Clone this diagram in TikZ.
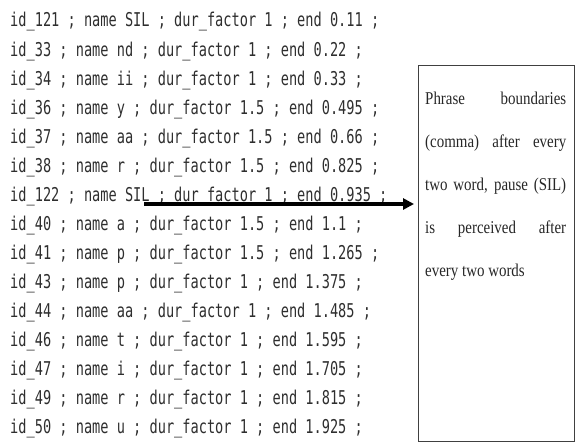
\documentclass[tikz,border=0pt]{standalone}
\usepackage{fontspec}
\newfontfamily\logfont[FakeStretch=0.717]{DejaVu Sans Mono}
\newfontfamily\notefont[FakeStretch=0.83]{Liberation Serif}
\usetikzlibrary{arrows.meta}

\begin{document}
\begin{tikzpicture}[
    x=1pt, y=-1pt,
    logline/.style={anchor=base west, inner sep=0pt, text=black!82,
                    font=\logfont\fontsize{19}{22}\selectfont},
    notebox/.style={draw=black!75, line width=0.8pt, anchor=north west,
                    minimum width=156pt, minimum height=376pt, inner sep=0pt},
    noteline/.style={anchor=base west, inner sep=0pt, text=black!85,
                     font=\notefont\fontsize{18}{20}\selectfont},
    pointer/.style={line width=3.2pt, -{Triangle[length=11pt,width=11pt]},
                    shorten >=4pt}
]

% ---------- canvas ----------
\useasboundingbox (0,0) rectangle (575,444);

% ---------- label file ----------
\foreach \txt [count=\i] in {
    id\_121 ; name SIL ; dur\_factor 1 ; end 0.11 ;,
    id\_33 ; name nd ; dur\_factor 1 ; end 0.22 ;,
    id\_34 ; name ii ; dur\_factor 1 ; end 0.33 ;,
    id\_36 ; name y ; dur\_factor 1.5 ; end 0.495 ;,
    id\_37 ; name aa ; dur\_factor 1.5 ; end 0.66 ;,
    id\_38 ; name r ; dur\_factor 1.5 ; end 0.825 ;,
    id\_122 ; name SIL ; dur\_factor 1 ; end 0.935 ;,
    id\_40 ; name a ; dur\_factor 1.5 ; end 1.1 ;,
    id\_41 ; name p ; dur\_factor 1.5 ; end 1.265 ;,
    id\_43 ; name p ; dur\_factor 1 ; end 1.375 ;,
    id\_44 ; name aa ; dur\_factor 1 ; end 1.485 ;,
    id\_46 ; name t ; dur\_factor 1 ; end 1.595 ;,
    id\_47 ; name i ; dur\_factor 1 ; end 1.705 ;,
    id\_49 ; name r ; dur\_factor 1 ; end 1.815 ;,
    id\_50 ; name u ; dur\_factor 1 ; end 1.925 ;}
  \node[logline] (l\i) at (10,{27+29.07*(\i-1)}) {\txt};

% ---------- note ----------
\node[notebox] (note) at (418,65) {};
\foreach \row [count=\j] in {Phrase boundaries, (comma) after every,
                             {two word, pause (SIL)}, is perceived after}
  \node[noteline] (n\j) at (425,{104+43*(\j-1)}) {\makebox[141pt][s]{\row}};
\node[noteline] (n5) at (425,{104+43*4}) {every two words};

% ---------- pointer from the pause ----------
\coordinate (silmark) at (144,204);
\draw[pointer] (silmark) -- (note.west |- silmark);

\end{tikzpicture}
\end{document}
